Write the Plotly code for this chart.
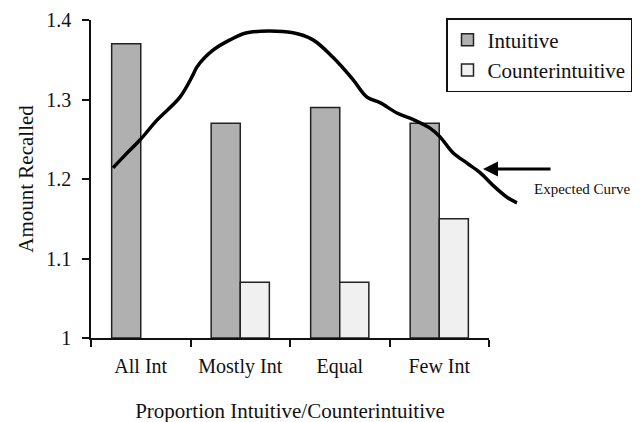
import plotly.graph_objects as go

categories = ["All Int", "Mostly Int", "Equal", "Few Int"]
intuitive = [1.37, 1.27, 1.29, 1.27]
counterintuitive = [None, 1.07, 1.07, 1.15]

# Hand-drawn "expected curve" (x in category-index units, y in Amount Recalled)
curve_x = [-0.279, -0.158, -0.008, 0.163, 0.394, 0.525, 0.565, 0.726, 0.897, 1.068,
           1.530, 1.731, 1.932, 2.133, 2.274, 2.405, 2.575, 2.736, 2.907, 3.008,
           3.138, 3.279, 3.410, 3.540, 3.681, 3.781]
curve_y = [1.214, 1.230, 1.249, 1.274, 1.303, 1.331, 1.341, 1.362, 1.375, 1.384,
           1.384, 1.375, 1.353, 1.325, 1.303, 1.296, 1.283, 1.275, 1.264, 1.253,
           1.233, 1.220, 1.208, 1.192, 1.177, 1.170]

W, H = 642, 422
FONT = "Liberation Serif"
OFF = 8  # page body margin

x0, x1, x2 = 91 - OFF, 489 - OFF, 525 - OFF
ytop, ybot = 20 - OFF, 338 - OFF

fig = go.Figure()
fig.add_trace(go.Bar(
    x=categories, y=[v - 1 if v is not None else None for v in intuitive], base=1,
    name="Intuitive", marker=dict(color="#b0b0b0", line=dict(color="#222222", width=1.5)),
    xaxis="x", yaxis="y"))
fig.add_trace(go.Bar(
    x=categories, y=[v - 1 if v is not None else None for v in counterintuitive], base=1,
    name="Counterintuitive", marker=dict(color="#f0f0f0", line=dict(color="#222222", width=1.5)),
    xaxis="x", yaxis="y"))
fig.add_trace(go.Scatter(
    x=curve_x, y=curve_y, mode="lines", line=dict(color="black", width=3.5, shape="spline"),
    showlegend=False, xaxis="x2", yaxis="y2", hoverinfo="skip"))

span = (x2 - x0) / ((x1 - x0) / 4.0)

fig.update_layout(
    width=W, height=H,
    margin=dict(l=0, r=0, t=0, b=0),
    paper_bgcolor="white", plot_bgcolor="rgba(0,0,0,0)",
    font=dict(family=FONT, color="#111111", size=20),
    barmode="group", bargap=0.415, bargroupgap=0,
    xaxis=dict(domain=[x0 / W, x1 / W], type="category", range=[-0.5, 3.5],
               automargin=False,
               showline=True, linecolor="#111111", linewidth=1.5,
               ticks="outside", tickson="boundaries", ticklen=7, tickcolor="#111111",
               tickwidth=1.5, showgrid=False, tickfont=dict(size=20),
               ticklabelstandoff=9,
               title=dict(text="Proportion Intuitive/Counterintuitive", font=dict(size=21), standoff=27),
               anchor="y"),
    yaxis=dict(domain=[1 - ybot / H, 1 - ytop / H], range=[1, 1.4],
               automargin=False,
               tickvals=[1, 1.1, 1.2, 1.3, 1.4], ticktext=["1", "1.1", "1.2", "1.3", "1.4"],
               showline=True, linecolor="#111111", linewidth=1.5,
               ticks="outside", ticklen=7, tickcolor="#111111", tickwidth=1.5,
               ticklabelstandoff=7,
               showgrid=False, zeroline=False, tickfont=dict(size=20),
               title=dict(text="Amount Recalled", font=dict(size=21), standoff=7),
               anchor="x"),
    xaxis2=dict(domain=[x0 / W, x2 / W], range=[-0.5, -0.5 + span], visible=False,
                anchor="y2", automargin=False),
    yaxis2=dict(domain=[1 - ybot / H, 1 - ytop / H], range=[1, 1.4], visible=False,
                anchor="x2", automargin=False),
    legend=dict(x=(446 - OFF) / W, y=1 - (18 - OFF) / H, xanchor="left", yanchor="top",
                bordercolor="#111111", borderwidth=1.5, bgcolor="white",
                font=dict(size=21, family=FONT), itemwidth=30, tracegroupgap=0,
                traceorder="normal"),
    showlegend=True,
)

fig.add_annotation(x=3.44, y=1.2126, xref="x2", yref="y2", ax=552 - 483, ay=0,
                   text="", showarrow=True,
                   arrowhead=2, arrowsize=1.0, arrowwidth=3, arrowcolor="black")
fig.add_annotation(x=(535 - OFF - 3) / W, y=1 - (189 - OFF) / H, xref="paper", yref="paper",
                   xanchor="left", yanchor="middle", text="Expected Curve",
                   showarrow=False, font=dict(size=15, family=FONT))

fig.write_html("out.html")
